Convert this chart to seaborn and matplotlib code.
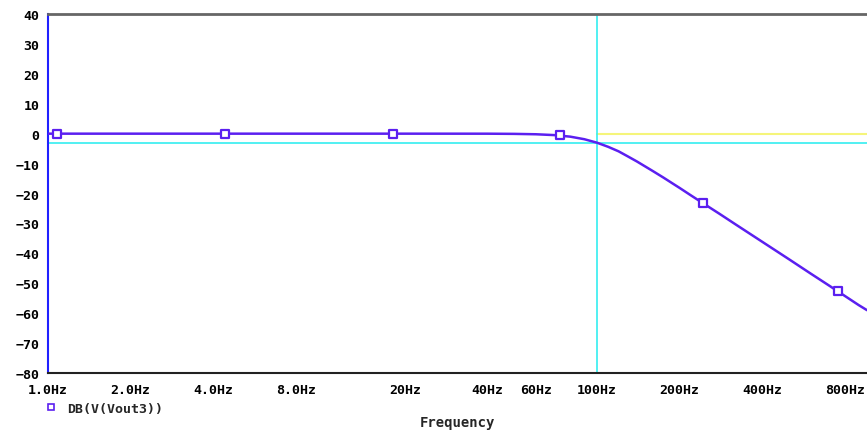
import numpy as np
import pandas as pd
import seaborn as sns
import matplotlib.pyplot as plt
from matplotlib.lines import Line2D

# curve (frequency in Hz, gain in dB)
freq = [1, 2, 5, 10, 20, 40, 50, 60, 70, 80, 90, 100, 110, 120, 130, 140,
        160, 175, 190, 200, 220, 250, 280, 320, 400, 500, 600, 700, 800, 900, 965]
gain = [0, 0, 0, 0, 0, -0.01, -0.07, -0.2, -0.48, -1.0, -1.85, -3.0, -4.4,
        -5.9, -7.65, -9.3, -12.5, -14.7, -16.8, -18.1, -20.6, -23.9, -26.8,
        -30.3, -36.1, -41.9, -46.7, -50.7, -54.2, -57.3, -59.0]

# symbol markers on the trace
mark_freq = [1.08, 4.43, 18.1, 73.6, 244, 758]
mark_gain = [0, 0, 0, -0.6, -23.2, -52.6]

xtick_vals = [1, 2, 4, 8, 20, 40, 60, 100, 200, 400, 800]
xtick_labels = ['1.0Hz', '2.0Hz', '4.0Hz', '8.0Hz', '20Hz', '40Hz', '60Hz',
                '100Hz', '200Hz', '400Hz', '800Hz']
ytick_vals = [-80, -70, -60, -50, -40, -30, -20, -10, 0, 10, 20, 30, 40]

cursor_x = 100
cursor_y = -3

sns.set_style('white')
plt.rcParams['font.family'] = ['DejaVu Sans Mono']
plt.rcParams['font.weight'] = 'bold'

trace_color = '#5b1ff0'

fig = plt.figure(figsize=(8.67, 4.35), dpi=100)
ax = fig.add_axes([48 / 867, 1 - 374 / 435, 1 - 48 / 867, (374 - 15) / 435])

df = pd.DataFrame({'freq': freq, 'gain': gain})
marks = pd.DataFrame({'freq': mark_freq, 'gain': mark_gain})

# yellow line at 0 dB and cyan cursors
ax.axhline(0, xmin=np.log10(cursor_x) / np.log10(965), color='#f5f57a', lw=1.5, zorder=1)
ax.axhline(cursor_y, color='#33eef0', lw=1.2, zorder=1)
ax.axvline(cursor_x, color='#33eef0', lw=1.2, zorder=1)

sns.lineplot(data=df, x='freq', y='gain', ax=ax, color=trace_color, lw=1.8, zorder=3)
sns.scatterplot(data=marks, x='freq', y='gain', ax=ax, marker='s', s=40,
                facecolor='white', edgecolor=trace_color, linewidth=1.6, zorder=4)

ax.set_xscale('log')
ax.set_xlim(1, 965)
ax.set_ylim(-80, 40)
ax.set_xticks(xtick_vals)
ax.set_xticklabels(xtick_labels)
ax.minorticks_off()
ax.set_yticks(ytick_vals)
ax.tick_params(axis='both', direction='out', length=5, width=1.2, labelsize=9.5,
               colors='#333333', labelcolor='black', pad=1)
ax.tick_params(axis='x', pad=2)

ax.spines['left'].set_color('#2020ff')
ax.spines['left'].set_linewidth(1.5)
ax.spines['top'].set_color('#666666')
ax.spines['top'].set_linewidth(2)
ax.spines['bottom'].set_color('#222222')
ax.spines['bottom'].set_linewidth(1.5)
ax.spines['right'].set_visible(False)

ax.set_ylabel('')
ax.set_xlabel('Frequency', fontsize=10, fontweight='bold', labelpad=14)

handle = Line2D([], [], marker='s', ls='', mfc='white', mec=trace_color, ms=5, mew=1.2)
ax.legend([handle], ['DB(V(Vout3))'], loc='upper left', bbox_to_anchor=(-0.009, -0.065),
          frameon=False, handlelength=0.8, handletextpad=0.8, borderaxespad=0,
          prop={'size': 9.5, 'weight': 'bold', 'family': 'DejaVu Sans Mono'})

plt.savefig('out.png', dpi=100)
plt.close()
